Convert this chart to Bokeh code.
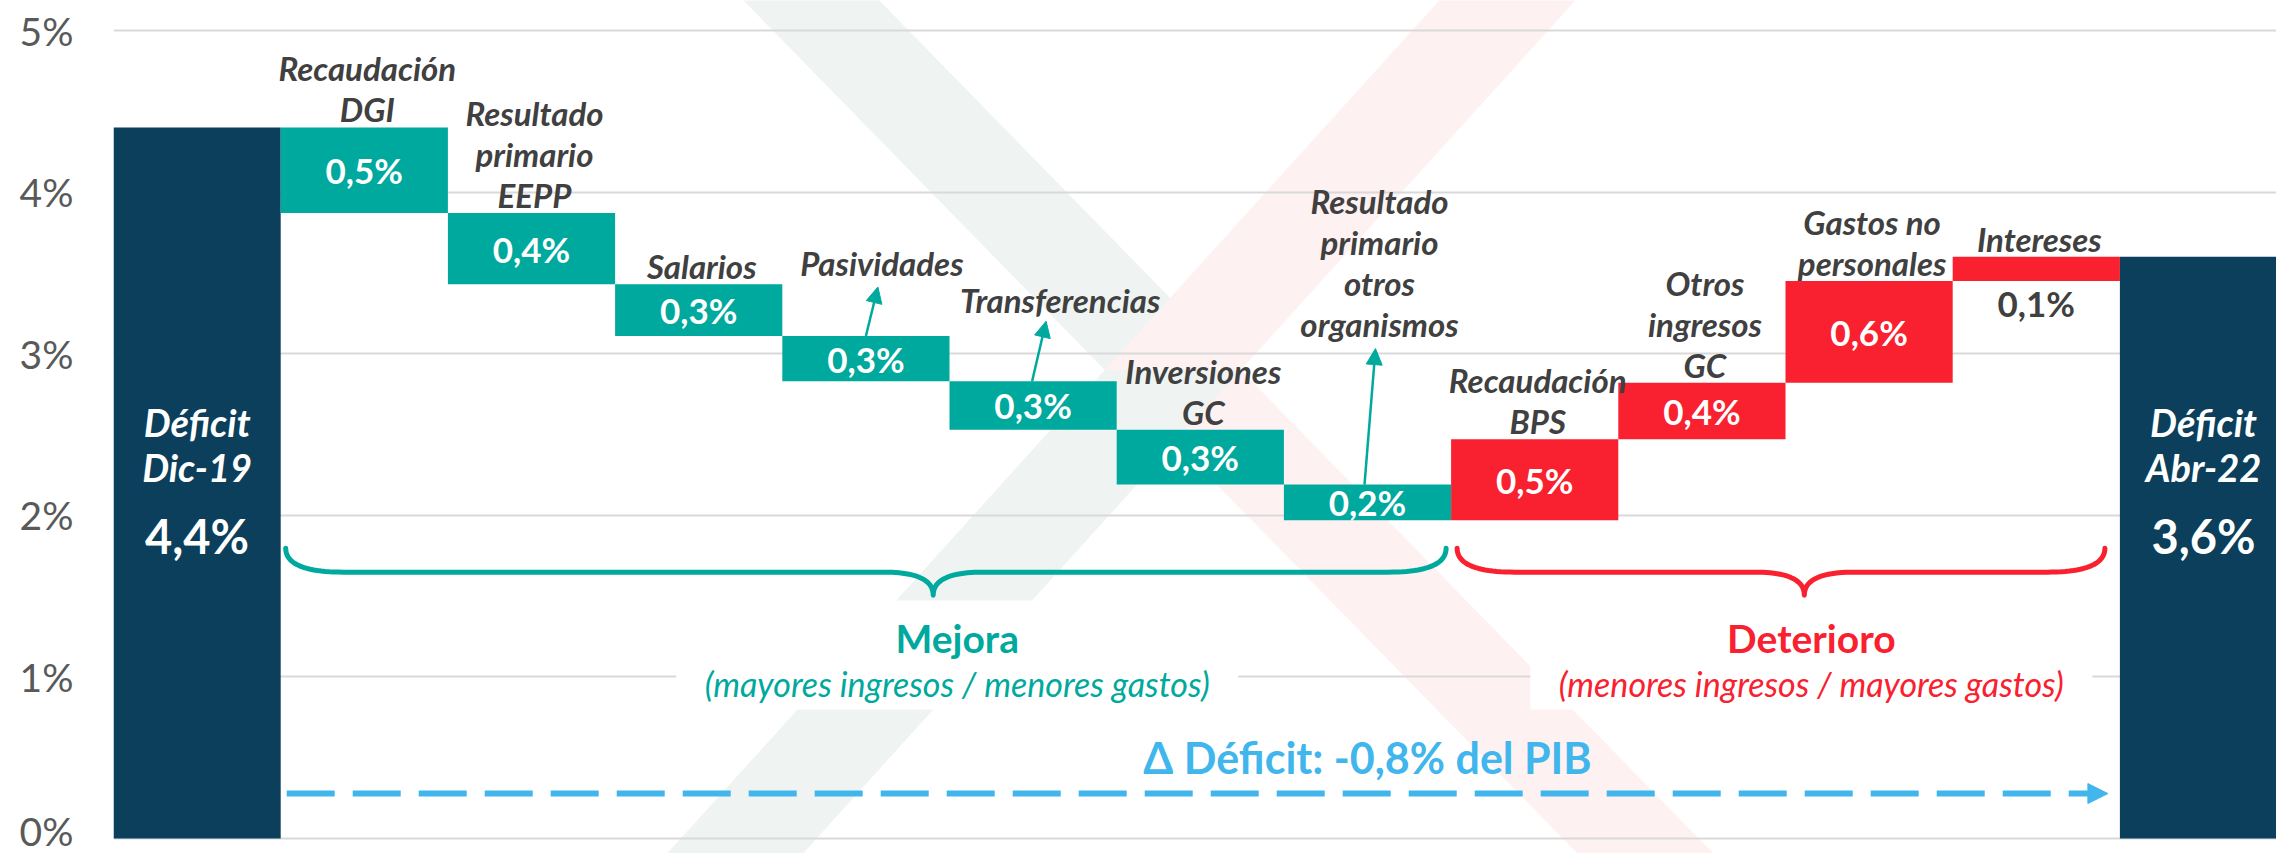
import numpy as np
from bokeh.plotting import figure
from bokeh.models import Arrow, NormalHead, FixedTicker
from bokeh.core.properties import value
from bokeh.embed import file_html
from bokeh.resources import INLINE

# ---------------- data ----------------
category_lines = [
    ["Déficit", "Dic-19"],
    ["Recaudación", "DGI"],
    ["Resultado", "primario", "EEPP"],
    ["Salarios"],
    ["Pasividades"],
    ["Transferencias"],
    ["Inversiones", "GC"],
    ["Resultado", "primario", "otros", "organismos"],
    ["Recaudación", "BPS"],
    ["Otros", "ingresos", "GC"],
    ["Gastos no", "personales"],
    ["Intereses"],
    ["Déficit", "Abr-22"],
]
deficit_start = 4.40
deficit_end = 3.60
changes = [-0.53, -0.44, -0.32, -0.28, -0.30, -0.34, -0.22, 0.50, 0.35, 0.63, 0.15]
change_labels = ["0,5%", "0,4%", "0,3%", "0,3%", "0,3%", "0,3%", "0,2%",
                 "0,5%", "0,4%", "0,6%", "0,1%"]
total_labels = ["4,4%", "3,6%"]
y_ticks = [0, 1, 2, 3, 4, 5]
y_tick_labels = ["0%", "1%", "2%", "3%", "4%", "5%"]
group_titles = ["Mejora", "Deterioro"]
group_notes = ["(mayores ingresos / menores gastos)", "(menores ingresos / mayores gastos)"]
delta_text = "Δ Déficit: -0,8% del PIB"

# ---------------- layout ----------------
W, H = 2276, 853
BORDER_L = 113
PXY = 161.6
Y1 = 838 / PXY
Y0 = Y1 - H / PXY
NCOL = len(category_lines)
PXX = 167.2
X1 = (W - BORDER_L) / PXX


def dx(px):
    return px / PXX


def dy(px):
    return px / PXY


TEAL = "#00A99D"
RED = "#F9202F"
NAVY = "#0B3F5B"
GRAY = "#404040"
BLUE = "#41B6EC"
FONT = value("Lato")

p = figure(width=W, height=H, x_range=(0, X1), y_range=(Y0, Y1),
           output_backend="svg", toolbar_location=None, x_axis_location=None,
           min_border_left=BORDER_L, min_border_right=0, min_border_top=0,
           min_border_bottom=0, outline_line_color=None,
           background_fill_color="white", border_fill_color="white")

p.xgrid.grid_line_color = None
p.ygrid.grid_line_color = "#D9D9D9"
p.ygrid.grid_line_width = 2
p.yaxis.ticker = FixedTicker(ticks=y_ticks)
p.yaxis.major_label_overrides = {t: l for t, l in zip(y_ticks, y_tick_labels)}
p.yaxis.axis_line_color = None
p.yaxis.major_tick_line_color = None
p.yaxis.minor_tick_line_color = None
p.yaxis.major_tick_out = 0
p.yaxis.major_tick_in = 0
p.yaxis.minor_tick_out = 0
p.yaxis.minor_tick_in = 0
p.yaxis.major_label_text_font = "Lato"
p.yaxis.major_label_text_font_size = "39px"
p.yaxis.major_label_text_color = "#595959"
p.yaxis.major_label_standoff = 40

# ---------------- faint watermark (X) ----------------
s1 = ((4.17, 5.19), (9.16, -0.09))
s2 = ((8.34, 5.19), (3.72, -0.09))
(ax, ay), (bx, by) = s1
(cx_, cy_), (ex, ey) = s2
A = np.array([[bx - ax, -(ex - cx_)], [by - ay, -(ey - cy_)]])
t1, t2 = np.linalg.solve(A, np.array([cx_ - ax, cy_ - ay]))
mx, my = ax + t1 * (bx - ax), ay + t1 * (by - ay)
hw = dx(68)


def band(x_a, y_a, x_b, y_b):
    return [x_a - hw, x_a + hw, x_b + hw, x_b - hw], [y_a, y_a, y_b, y_b]


WM_G, WM_R = "#EFF4F2", "#FDF1F1"
wx, wy, wc = [], [], []
for (xa, ya, xb, yb, col) in [
    (ax, ay, mx, my, WM_G), (mx, my, bx, by, WM_R),
    (cx_, cy_, mx, my, WM_R), (mx, my, ex, ey, WM_G)]:
    xs, ys = band(xa, ya, xb, yb)
    wx.append(xs); wy.append(ys); wc.append(col)
p.patches(wx, wy, fill_color=wc, line_color=None, level="image")

# ---------------- boxes behind group captions ----------------
tip_frac = [0.558, 0.536]
levels = deficit_start + np.concatenate([[0.0], np.cumsum(changes)])
n = len(changes)
neg_idx = [i for i in range(n) if changes[i] < 0]
pos_idx = [i for i in range(n) if changes[i] >= 0]
group_spans = [(neg_idx[0] + 1 + dx(5), neg_idx[-1] + 2 - dx(5)),
               (pos_idx[0] + 1 + dx(6), pos_idx[-1] + 2 - dx(15))]
group_colors = [TEAL, RED]
title_shift = [dx(24), dx(7)]

title_y = 1.238
note_y = 0.959
box_bottom, box_top = 0.798, 1.473
for g in range(2):
    x0, x1 = group_spans[g]
    xt = x0 + tip_frac[g] * (x1 - x0)
    cxg = xt + title_shift[g]
    p.quad(left=[cxg - dx(281)], right=[cxg + dx(281)], bottom=[box_bottom], top=[box_top],
           fill_color="white", line_color=None)

# ---------------- bars ----------------
lefts = [0.0] + [i + 1.0 for i in range(n)] + [NCOL - 1.0]
rights = [l + 1.0 for l in lefts]
bottoms = [0.0] + [min(levels[i], levels[i + 1]) for i in range(n)] + [0.0]
tops = [deficit_start] + [max(levels[i], levels[i + 1]) for i in range(n)] + [deficit_end]
colors = [NAVY] + [TEAL if c < 0 else RED for c in changes] + [NAVY]
p.quad(left=lefts, right=rights, bottom=bottoms, top=tops, fill_color=colors,
       line_color=None)

# ---------------- value labels ----------------
vx, vy, vt, vc = [], [], [], []
for i in range(n):
    lo, hi = bottoms[i + 1], tops[i + 1]
    if (hi - lo) * PXY < 30:
        vx.append(i + 1.5); vy.append(lo - dy(22)); vc.append(GRAY)
    else:
        vx.append(i + 1.5); vy.append((lo + hi) / 2); vc.append("white")
    vt.append(change_labels[i])
p.text(x=vx, y=vy, text=vt, text_color=vc, text_font=FONT, text_font_size="35px",
       text_font_style="bold", text_align="center", text_baseline="middle")

# ---------------- category labels ----------------
label_layout = {
    4: dict(dx=16, up=73, arrow=(0, 12, 49)),
    5: dict(dx=27, up=81, arrow=(-1, 13, 60)),
    7: dict(dx=12, up=161, arrow=(-3, 8, 136)),
}
LINE = 41
lx, ly, lt = [], [], []
for i in range(n):
    k = i + 1
    lines = category_lines[k]
    lay = label_layout.get(k, dict(dx=3, up=18, arrow=None))
    top = tops[k]
    for j, line in enumerate(lines):
        lx.append(k + 0.5 + dx(lay["dx"]))
        ly.append(top + dy(lay["up"] + (len(lines) - 1 - j) * LINE))
        lt.append(line)
    if lay["arrow"] is not None:
        a0, a1, a2 = lay["arrow"]
        p.add_layout(Arrow(end=NormalHead(size=16, fill_color=TEAL, line_color=TEAL),
                           x_start=k + 0.5 + dx(a0), y_start=top,
                           x_end=k + 0.5 + dx(a1), y_end=top + dy(a2),
                           line_color=TEAL, line_width=2.5))
p.text(x=lx, y=ly, text=lt, text_color=GRAY, text_font=FONT, text_font_size="33px",
       text_font_style="bold italic", text_align="center", text_baseline="middle")

# ---------------- total bars labels ----------------
name_y = [2.580, 2.296]
total_y = 1.875
for b, k in enumerate([0, NCOL - 1]):
    p.text(x=[k + 0.5] * 2, y=name_y, text=category_lines[k], text_color="white",
           text_font=FONT, text_font_size="38px", text_font_style="bold italic",
           text_align="center", text_baseline="middle")
    p.text(x=[k + 0.5], y=[total_y], text=[total_labels[b]], text_color="white",
           text_font=FONT, text_font_size="47px", text_font_style="bold",
           text_align="center", text_baseline="middle")

# ---------------- braces ----------------


def qbez(p0, c, p1, num=24):
    t = np.linspace(0, 1, num)
    return ((1 - t) ** 2 * p0[0] + 2 * (1 - t) * t * c[0] + t ** 2 * p1[0],
            (1 - t) ** 2 * p0[1] + 2 * (1 - t) * t * c[1] + t ** 2 * p1[1])


base = min(levels)
ytop, yh, ytip = base - dy(28), base - dy(52), base - dy(75)
re, rt = dx(58), dx(50)
for g in range(2):
    x0, x1 = group_spans[g]
    xt = x0 + tip_frac[g] * (x1 - x0)
    segs = [qbez((x0, ytop), (x0, yh), (x0 + re, yh)),
            ([x0 + re, xt - rt], [yh, yh]),
            qbez((xt - rt, yh), (xt, yh), (xt, ytip)),
            qbez((xt, ytip), (xt, yh), (xt + rt, yh)),
            ([xt + rt, x1 - re], [yh, yh]),
            qbez((x1 - re, yh), (x1, yh), (x1, ytop))]
    bxs = np.concatenate([np.asarray(s[0]) for s in segs])
    bys = np.concatenate([np.asarray(s[1]) for s in segs])
    p.line(bxs, bys, line_color=group_colors[g], line_width=5, line_join="round",
           line_cap="round")
    cxg = xt + title_shift[g]
    p.text(x=[cxg], y=[title_y], text=[group_titles[g]], text_color=group_colors[g],
           text_font=FONT, text_font_size="39px", text_font_style="bold",
           text_align="center", text_baseline="middle")
    p.text(x=[cxg], y=[note_y], text=[group_notes[g]], text_color=group_colors[g],
           text_font=FONT, text_font_size="34px", text_font_style="italic",
           text_align="center", text_baseline="middle")

# ---------------- delta arrow ----------------
arrow_y = 0.278
p.add_layout(Arrow(end=NormalHead(size=20, fill_color=BLUE, line_color=BLUE, line_width=1),
                   x_start=1 + dx(6), y_start=arrow_y, x_end=NCOL - 1 - dx(12), y_end=arrow_y,
                   line_color=BLUE, line_width=6, line_dash="48 18"))
p.text(x=[7.5], y=[0.50], text=[delta_text], text_color=BLUE, text_font=FONT,
       text_font_size="43px", text_font_style="bold", text_align="center",
       text_baseline="middle")

open("out.html", "w").write(file_html(p, INLINE))
